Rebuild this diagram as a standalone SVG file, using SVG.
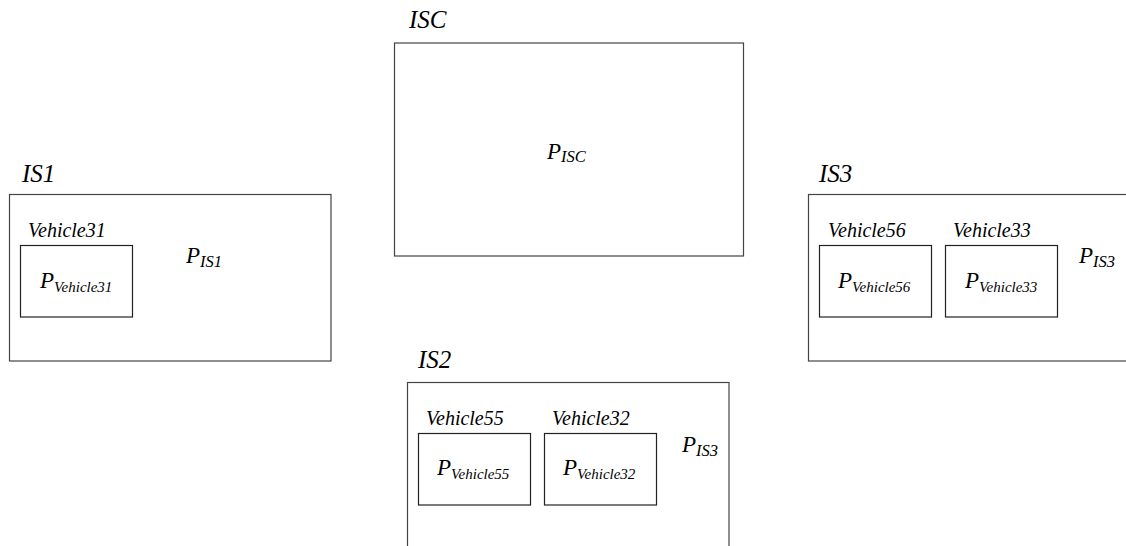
<svg xmlns="http://www.w3.org/2000/svg" width="1126" height="546" viewBox="0 0 1126 546" font-family="'Liberation Serif', 'DejaVu Serif', serif">
  <style>
    .box { fill: #ffffff; stroke: #444444; stroke-width: 1.2; }
    .inner { fill: #ffffff; stroke: #222222; stroke-width: 1.2; }
    text { font-family: 'Liberation Serif', 'DejaVu Serif', serif; font-style: italic; fill: #000000; }
    .title { font-size: 25px; }
    .veh { font-size: 20px; }
    .p { font-size: 23px; }
    .sub { font-size: 15px; }
    .subis { font-size: 16.5px; }
  </style>
  <rect width="1126" height="546" fill="#ffffff"/>

  <!-- Central server -->
  <g id="isc">
    <text class="title" x="409" y="28">ISC</text>
    <rect class="box" x="394.5" y="43" width="349" height="213"/>
    <text class="p" x="547" y="159">P<tspan class="subis" dy="3">ISC</tspan></text>
  </g>

  <!-- Intersection server 1 -->
  <g id="is1">
    <text class="title" x="22" y="182">IS1</text>
    <rect class="box" x="9.5" y="194.5" width="321.5" height="166.5"/>
    <text class="p" x="186" y="263">P<tspan class="subis" dy="4">IS1</tspan></text>
    <g id="vehicle31">
      <text class="veh" x="28" y="237">Vehicle31</text>
      <rect class="inner" x="20.5" y="245.5" width="112" height="71.5"/>
      <text class="p" x="40" y="288">P<tspan class="sub" dy="4">Vehicle31</tspan></text>
    </g>
  </g>

  <!-- Intersection server 3 -->
  <g id="is3">
    <text class="title" x="819" y="182">IS3</text>
    <rect class="box" x="808.5" y="194.5" width="330" height="166.5"/>
    <text class="p" x="1079" y="263">P<tspan class="subis" dy="4">IS3</tspan></text>
    <g id="vehicle56">
      <text class="veh" x="828" y="237">Vehicle56</text>
      <rect class="inner" x="819.5" y="245.5" width="112" height="71.5"/>
      <text class="p" x="838" y="288">P<tspan class="sub" dy="4">Vehicle56</tspan></text>
    </g>
    <g id="vehicle33">
      <text class="veh" x="953" y="237">Vehicle33</text>
      <rect class="inner" x="945.5" y="245.5" width="112" height="71.5"/>
      <text class="p" x="965" y="288">P<tspan class="sub" dy="4">Vehicle33</tspan></text>
    </g>
  </g>

  <!-- Intersection server 2 -->
  <g id="is2">
    <text class="title" x="418" y="368">IS2</text>
    <rect class="box" x="407.5" y="382.5" width="321.5" height="180"/>
    <text class="p" x="682" y="452">P<tspan class="subis" dy="4">IS3</tspan></text>
    <g id="vehicle55">
      <text class="veh" x="426" y="425">Vehicle55</text>
      <rect class="inner" x="418.5" y="433.5" width="112" height="71.5"/>
      <text class="p" x="437" y="475">P<tspan class="sub" dy="4">Vehicle55</tspan></text>
    </g>
    <g id="vehicle32">
      <text class="veh" x="552" y="425">Vehicle32</text>
      <rect class="inner" x="544.5" y="433.5" width="112" height="71.5"/>
      <text class="p" x="563" y="475">P<tspan class="sub" dy="4">Vehicle32</tspan></text>
    </g>
  </g>

  <g id="connectors"/>
</svg>
